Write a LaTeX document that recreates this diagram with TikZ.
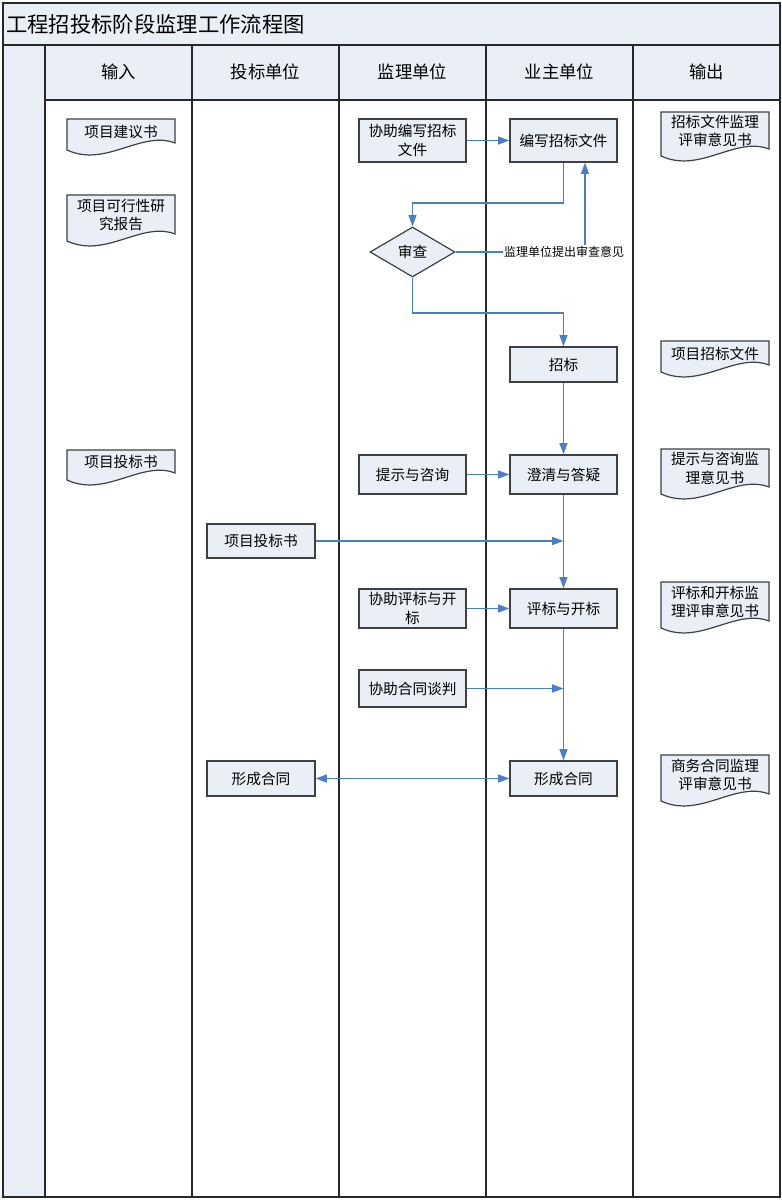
\documentclass[tikz,border=0pt]{standalone}
\usepackage{fontspec}
\setmainfont{Noto Sans CJK SC}
\usepackage{tikz}
\usetikzlibrary{arrows.meta}
\usetikzlibrary{shapes.geometric}

% document shape: name, centre x, top y, left side height, text
\newcommand{\docnode}[5]{%
  \draw [color={rgb, 255:red, 64; green, 64; blue, 64 }, fill={rgb, 255:red, 233; green, 238; blue, 247 }, line width=0.9pt] ({#2-54},#3) -- ({#2+54},#3) -- ({#2+54},{#3+#4-7}) .. controls ({#2+20},{#3+#4-20}) and ({#2-15},{#3+#4+18}) .. ({#2-54},{#3+#4}) -- cycle ;
  \node [doctext] (#1) at (#2,{#3+(#4-6)/2}) {#5};%
}

\begin{document}
\begin{tikzpicture}[x=0.75pt,y=0.75pt,yscale=-1,xscale=1,
  box/.style={draw={rgb, 255:red, 64; green, 64; blue, 64 }, fill={rgb, 255:red, 233; green, 238; blue, 247 }, line width=0.9pt, minimum width=80.25pt, inner sep=0.75pt, align=center, font=\fontsize{11}{14}\selectfont},
  doctext/.style={inner sep=0.75pt, align=center, font=\fontsize{11}{14}\selectfont},
  head/.style={inner sep=0.75pt, font=\fontsize{13}{16}\selectfont},
  lane/.style={color={rgb, 255:red, 40; green, 40; blue, 40 }, line width=1.1pt},
  flow/.style={color={rgb, 255:red, 74; green, 126; blue, 200 }, line width=0.9pt, -{Triangle[length=8.5pt,width=6pt]}},
  ]
\useasboundingbox (0,0) rectangle (782,1200);

%Shape: Rectangle (title bar, left strip, header row)
\fill [color={rgb, 255:red, 233; green, 238; blue, 247 }] (3,3) rectangle (780,45) ;
\fill [color={rgb, 255:red, 233; green, 238; blue, 247 }] (3,45) rectangle (45,1197) ;
\fill [color={rgb, 255:red, 233; green, 238; blue, 247 }] (45,45) rectangle (780,100) ;

%Straight Lines
\draw [lane] (3,45) -- (780,45) ;
\draw [lane, line width=0.8pt] (45,100) -- (780,100) ;
\draw [lane] (45,45) -- (45,1197) ;
\draw [lane] (192,45) -- (192,1197) ;
\draw [lane] (339,45) -- (339,1197) ;
\draw [lane] (486,45) -- (486,1197) ;
\draw [lane] (633,45) -- (633,1197) ;
%Shape: Rectangle (frame)
\draw [lane] (3,3) rectangle (780,1197) ;

% Text Node
\node [anchor=west, inner sep=0.75pt, font=\fontsize{16}{19}\selectfont] (title) at (5,24) {工程招投标阶段监理工作流程图};
% Text Node
\node [head] (hin) at (118.5,72) {输入};
\node [head] (htb) at (265.5,72) {投标单位};
\node [head] (hjl) at (412.5,72) {监理单位};
\node [head] (hyz) at (559.5,72) {业主单位};
\node [head] (hout) at (706.5,72) {输出};

%Shape: Document
\docnode{in1}{121}{119}{31}{项目建议书}
\docnode{in2}{121}{195}{46}{项目可行性研\\究报告}
\docnode{in3}{121}{450}{30}{项目投标书}
\docnode{out1}{715}{112}{44}{招标文件监理\\评审意见书}
\docnode{out2}{715}{341}{31}{项目招标文件}
\docnode{out3}{715}{449}{45}{提示与咨询监\\理意见书}
\docnode{out4}{715}{582}{46}{评标和开标监\\理评审意见书}
\docnode{out5}{715}{755}{46}{商务合同监理\\评审意见书}

%Shape: Rectangle
\node [box, minimum height=32.25pt] (zx) at (412.5,140.5) {协助编写招标\\文件};
\node [box, minimum height=32.25pt] (bx) at (563.5,140.5) {编写招标文件};
%Shape: Diamond
\node [box, shape=diamond, minimum width=63.75pt, minimum height=37.5pt, inner sep=0pt] (sc) at (412.5,252) {审查};
\node [box, minimum height=26.25pt] (zb) at (563.5,364.5) {招标};
\node [box, minimum height=29.25pt] (ts) at (412.5,474.5) {提示与咨询};
\node [box, minimum height=29.25pt] (cq) at (563.5,474.5) {澄清与答疑};
\node [box, minimum height=25.5pt, minimum width=81pt] (tb) at (261,541) {项目投标书};
\node [box, minimum height=29.25pt] (xp) at (412.5,608.5) {协助评标与开\\标};
\node [box, minimum height=29.25pt] (pk) at (563.5,608.5) {评标与开标};
\node [box, minimum height=27.75pt] (ht) at (412.5,688.5) {协助合同谈判};
\node [box, minimum height=26.25pt, minimum width=81pt] (xc1) at (261,778.5) {形成合同};
\node [box, minimum height=26.25pt] (xc2) at (563.5,778.5) {形成合同};

% bend points
\coordinate (k1) at (412.5,203) ;
\coordinate (k2) at (563.5,313) ;

%Connectors
\draw [flow] (zx.east) -- (bx.west) ;
\draw [flow] (bx.south) |- (k1) -- (sc.north) ;
\draw [flow] (sc.east) -| node [pos=0.419, fill=white, inner sep=0.75pt, text=black, font=\fontsize{9}{11}\selectfont] (yj) {监理单位提出审查意见} ([xshift=16.1pt]bx.south) ;
\draw [flow] (sc.south) |- (k2) -- (zb.north) ;
\draw [flow] (zb.south) -- (cq.north) ;
\draw [flow] (ts.east) -- (cq.west) ;
\draw [flow] (cq.south) -- (pk.north) ;
\draw [flow] (tb.east) -- (tb.east -| pk.north) ;
\draw [flow] (xp.east) -- (pk.west) ;
\draw [flow] (pk.south) -- (xc2.north) ;
\draw [flow] (ht.east) -- (ht.east -| xc2.north) ;
\draw [flow, {Triangle[length=8.5pt,width=6pt]}-{Triangle[length=8.5pt,width=6pt]}] (xc1.east) -- (xc2.west) ;

\end{tikzpicture}
\end{document}
